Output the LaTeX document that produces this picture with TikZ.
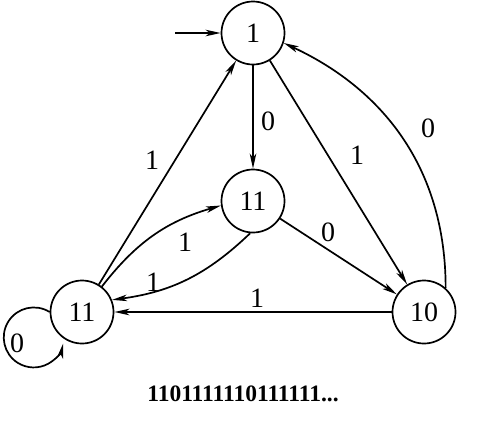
\documentclass[tikz,border=0pt]{standalone}
\usepackage{fontspec}
\setmainfont{Liberation Serif}
\usetikzlibrary{arrows.meta}
\begin{document}
\begin{tikzpicture}[x=1pt,y=1pt,
  state/.style={circle,draw,line width=1.7pt,minimum size=63pt,inner sep=0pt,font=\fontsize{28}{30}\selectfont},
  tr/.style={line width=1.7pt,-{Stealth[length=15pt,width=6.5pt,inset=4pt]}},
  lbl/.style={font=\fontsize{28}{30}\selectfont,inner sep=0pt}]
\useasboundingbox (0,0) rectangle (492,-440);
\node[state] (n1) at (253,-33) {1};
\node[state] (m) at (253,-201) {11};
\node[state] (l) at (82,-312) {11};
\node[state] (t) at (424,-312) {10};
\coordinate (s) at (175,-33);
\draw[tr] (s) -- (n1);
\draw[tr] (n1) -- (m);
\draw[tr] (n1) -- (t);
\draw[tr] (t.48) to[out=90,in=-25] (n1.-18);
\draw[tr] (m) -- (t);
\draw[tr] (t) -- (l);
\draw[tr] (l) -- (n1);
\draw[tr] (l.52) to[bend left=18] (m.188);
\draw[tr] (m.-95) to[bend left=18] (l.22);
\draw[tr] (l.180) arc[start angle=58,end angle=348,radius=30];
\node[lbl] (a) at (268,-121) {0};
\node[lbl] (b) at (357,-155) {1};
\node[lbl] (c) at (428,-128) {0};
\node[lbl] (d) at (328,-232) {0};
\node[lbl] (e) at (257,-298) {1};
\node[lbl] (f) at (152,-160) {1};
\node[lbl] (g) at (185,-242) {1};
\node[lbl] (h) at (153,-282) {1};
\node[lbl] (i) at (17,-343) {0};
\node[font=\fontsize{23.5}{26}\selectfont\bfseries] (seq) at (243,-394) {1101111110111111...};
\end{tikzpicture}
\end{document}
